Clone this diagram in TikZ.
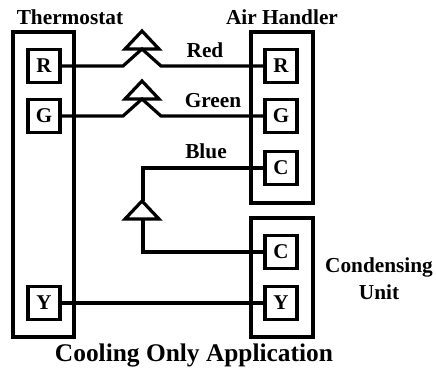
\documentclass[tikz,border=0pt]{standalone}
\usepackage{fontspec}
\setmainfont{Liberation Serif}
\begin{document}
\begin{tikzpicture}[x=1pt,y=-1pt,
  lw/.style={line width=3.2pt},
  unitbox/.style={draw,lw,inner sep=0pt},
  term/.style={draw,lw,minimum width=32pt,minimum height=33pt,inner sep=0pt,
    font=\fontsize{21}{24}\selectfont\bfseries},
  lbl/.style={font=\fontsize{21.3}{24}\selectfont\bfseries,inner sep=0pt,anchor=base},
  ttl/.style={font=\fontsize{25.4}{30}\selectfont\bfseries,inner sep=0pt,anchor=base},
  wire/.style={lw,line join=miter}]
\useasboundingbox (0,0) rectangle (436,370);
% unit boxes
\node[unitbox,minimum width=61pt,minimum height=305pt] (therm) at (43.5,184.5) {};
\node[unitbox,minimum width=62pt,minimum height=171pt] (ah) at (282,117.5) {};
\node[unitbox,minimum width=62pt,minimum height=119pt] (cu) at (282,277.5) {};
% labels
\node[lbl] (lth) at (70,24) {Thermostat};
\node[lbl] (lah) at (282,24) {Air Handler};
\node[lbl] (lcu1) at (379,272) {Condensing};
\node[lbl] (lcu2) at (379,299) {Unit};
\node[ttl] (title) at (194,361) {Cooling Only Application};
% terminals
\node[term] (tR) at (44,66) {R};
\node[term] (tG) at (44,116) {G};
\node[term] (tY) at (44,303) {Y};
\node[term] (aR) at (281,66) {R};
\node[term] (aG) at (281,116) {G};
\node[term] (aC) at (281,168) {C};
\node[term] (cC) at (281,252) {C};
\node[term] (cY) at (281,303) {Y};
% wire labels
\node[lbl] (wr) at (205,57) {Red};
\node[lbl] (wg) at (213,107) {Green};
\node[lbl] (wb) at (206,158) {Blue};
% red wire with hop
\draw[wire] (tR.east) -- (123,66) -- (142,49) -- (161,66) -- (aR.west);
\draw[wire] (125,49) -- (142,31) -- (159,49) -- cycle;
% green wire with hop
\draw[wire] (tG.east) -- (123,116) -- (142,99) -- (161,116) -- (aG.west);
\draw[wire] (125,99) -- (142,81) -- (159,99) -- cycle;
% blue wire
\draw[wire] (aC.west) -- (143,168) -- (143,201);
\draw[wire] (125,219) -- (142,201) -- (159,219) -- cycle;
\draw[wire] (143,219) -- (143,252) -- (cC.west);
% yellow wire
\draw[wire] (tY.east) -- (cY.west);
\end{tikzpicture}
\end{document}
